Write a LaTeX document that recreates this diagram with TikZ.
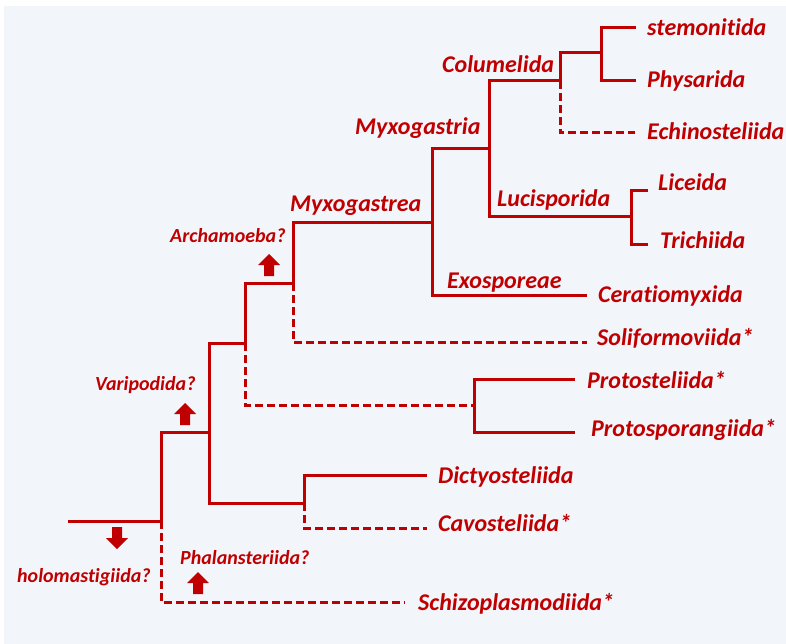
\documentclass[tikz,border=0pt]{standalone}
\usepackage{fontspec}
\setmainfont{Carlito}[Ligatures=NoCommon]
\definecolor{clade}{HTML}{C00000}
\definecolor{panel}{HTML}{F2F6FB}

\begin{document}
\begin{tikzpicture}[%
  x=1pt, y=-1pt,
  branch/.style={draw=clade, line width=3pt},
  unsure/.style={branch, dash pattern=on 8pt off 4pt},
  taxon/.style={anchor=base west, inner sep=0pt, text=clade,
    font=\fontsize{24}{28}\selectfont\bfseries\itshape},
  guess/.style={taxon, font=\fontsize{20}{24}\selectfont\bfseries\itshape},
  uparr/.pic={\fill[clade] (0,-11) -- (11,0) -- (5,0) -- (5,11)
    -- (-5,11) -- (-5,0) -- (-11,0) -- cycle;}]
  \useasboundingbox (0,0) rectangle (786,644);
  \fill[white] (0,0) rectangle (786,644);
  \fill[panel] (4,6) rectangle (786,644);

  % branch points
  \coordinate (r0) at (68,521);
  \coordinate (n1) at (161,521);
  \coordinate (n2) at (209,432);
  \coordinate (n3) at (245,343);
  \coordinate (n4) at (293,283);
  \coordinate (n5) at (432,223);
  \coordinate (n6) at (489,149);
  \coordinate (n7) at (560,81);
  \coordinate (n8) at (601,53);
  \coordinate (n9) at (631,217);
  \coordinate (n10) at (474,405);
  \coordinate (n11) at (304,503);
  % tips
  \coordinate (stemE) at (636,28);
  \coordinate (physE) at (636,81);
  \coordinate (echE) at (635,133);
  \coordinate (licE) at (648,191);
  \coordinate (triE) at (648,244);
  \coordinate (ceraE) at (587,295);
  \coordinate (solE) at (587,342);
  \coordinate (proE) at (575,379);
  \coordinate (psporE) at (575,432);
  \coordinate (dicE) at (427,475);
  \coordinate (cavE) at (427,528);
  \coordinate (schE) at (405,602);

  % taxa
  \node[taxon] (stem) at (647,36) {stemonitida};
  \node[taxon] (phys) at (647,88) {Physarida};
  \node[taxon] (ech) at (647,140) {Echinosteliida};
  \node[taxon] (lic) at (658,191) {Liceida};
  \node[taxon] (tri) at (660,248) {Trichiida};
  \node[taxon] (cera) at (598,302) {Ceratiomyxida};
  \node[taxon] (sol) at (597,345) {Soliformoviida*};
  \node[taxon] (pro) at (587,388) {Protosteliida*};
  \node[taxon] (spor) at (591,436) {Protosporangiida*};
  \node[taxon] (dic) at (438,483) {Dictyosteliida};
  \node[taxon] (cav) at (438,531) {Cavosteliida*};
  \node[taxon] (sch) at (418,610) {Schizoplasmodiida*};
  % clade names
  \node[taxon] (colu) at (442,73) {Columelida};
  \node[taxon] (mxa) at (355,135) {Myxogastria};
  \node[taxon] (luci) at (497,207) {Lucisporida};
  \node[taxon] (exo) at (447,288) {Exosporeae};
  \node[taxon] (mxe) at (290,212) {Myxogastrea};
  \node[guess] (arch) at (170,242) {Archamoeba?};
  \node[guess] (vari) at (95,390) {Varipodida?};
  \node[guess] (phal) at (180,564) {Phalansteriida?};
  \node[guess] (holo) at (17,582) {holomastigiida?};

  % tree
  \draw[branch] (r0) -- (n1) |- (n2);
  \draw[unsure] (n1) |- (schE);
  \draw[branch] (n3) -| (n2) |- (n11);
  \draw[branch] (n4) -| (n3);
  \draw[unsure] (n3) |- (n10);
  \draw[branch] (n5) -| (n4);
  \draw[unsure] (n4) |- (solE);
  \draw[branch] (n6) -| (n5) |- (ceraE);
  \draw[branch] (n7) -| (n6) |- (n9);
  \draw[branch] (n8) -| (n7);
  \draw[unsure] (n7) |- (echE);
  \draw[branch] (stemE) -| (n8) |- (physE);
  \draw[branch] (licE) -| (n9) |- (triE);
  \draw[branch] (proE) -| (n10) |- (psporE);
  \draw[branch] (dicE) -| (n11);
  \draw[unsure] (n11) |- (cavE);

  % arrows
  \pic (upA) at (269,265) {uparr};
  \pic (upV) at (185,414) {uparr};
  \pic (upP) at (198,583) {uparr};
  \pic[rotate=180] (downH) at (117,538) {uparr};
\end{tikzpicture}
\end{document}
